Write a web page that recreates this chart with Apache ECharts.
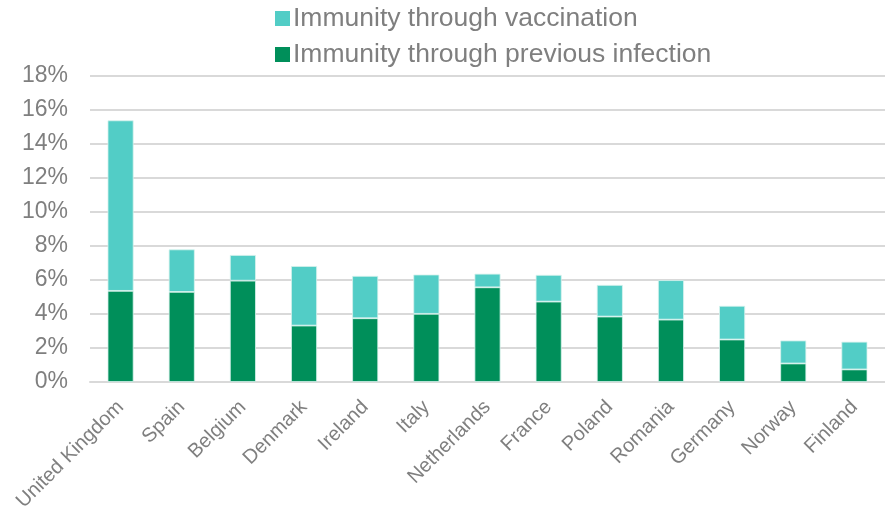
<!DOCTYPE html>
<html>
<head>
<meta charset="utf-8">
<script src="https://cdn.jsdelivr.net/npm/echarts@6/dist/echarts.min.js"></script>
<style>
  html, body { margin: 0; padding: 0; background: #fff; }
  #chart { width: 885px; height: 516px; }
</style>
</head>
<body>
<div id="chart"></div>
<script>
// Share of population with immunity, by country (percent)
const countries = ['United Kingdom', 'Spain', 'Belgium', 'Denmark', 'Ireland', 'Italy',
  'Netherlands', 'France', 'Poland', 'Romania', 'Germany', 'Norway', 'Finland'];
const previousInfection = [5.36, 5.30, 5.96, 3.32, 3.75, 4.01, 5.57, 4.73, 3.85, 3.67, 2.50, 1.09, 0.74];
const vaccination = [10.03, 2.50, 1.51, 3.50, 2.49, 2.31, 0.80, 1.57, 1.86, 2.32, 1.98, 1.35, 1.63];
const yTicks = [0, 2, 4, 6, 8, 10, 12, 14, 16, 18];

const gray = '#7f7f7f';
const chart = echarts.init(document.getElementById('chart'));
chart.setOption({
  animation: false,
  textStyle: { fontFamily: 'Liberation Sans, Arial, sans-serif' },
  legend: {
    orient: 'vertical',
    left: 270,
    top: 0,
    itemWidth: 15,
    itemHeight: 15,
    itemGap: 9,
    icon: 'rect',
    itemStyle: { borderWidth: 0 },
    textStyle: { fontSize: 26.5, color: gray, fontFamily: 'Liberation Sans, Arial, sans-serif', padding: [0, 0, 0, -2] },
    data: ['Immunity through vaccination', 'Immunity through previous infection']
  },
  grid: { left: 90, right: -8, top: 76, bottom: 134 },
  xAxis: {
    type: 'category',
    data: countries,
    axisTick: { show: false },
    axisLine: { lineStyle: { color: '#d9d9d9', width: 2 } },
    axisLabel: {
      rotate: 45,
      interval: 0,
      margin: 22,
      fontSize: 20,
      color: gray
    }
  },
  yAxis: {
    type: 'value',
    min: yTicks[0],
    max: yTicks[yTicks.length - 1],
    interval: 2,
    axisLine: { show: false },
    axisTick: { show: false },
    splitLine: { lineStyle: { color: '#d9d9d9', width: 2 } },
    axisLabel: {
      margin: 22,
      fontSize: 23,
      color: gray,
      formatter: v => v + '%'
    }
  },
  series: [
    {
      name: 'Immunity through previous infection',
      type: 'bar',
      stack: 'total',
      barWidth: 26,
      data: previousInfection,
      itemStyle: { color: '#008f5a', borderColor: '#d8f3ee', borderWidth: 0.8 }
    },
    {
      name: 'Immunity through vaccination',
      type: 'bar',
      stack: 'total',
      barWidth: 26,
      data: vaccination,
      itemStyle: { color: '#52cdc6', borderColor: '#d8f3ee', borderWidth: 0.8 }
    }
  ]
});
</script>
</body>
</html>
